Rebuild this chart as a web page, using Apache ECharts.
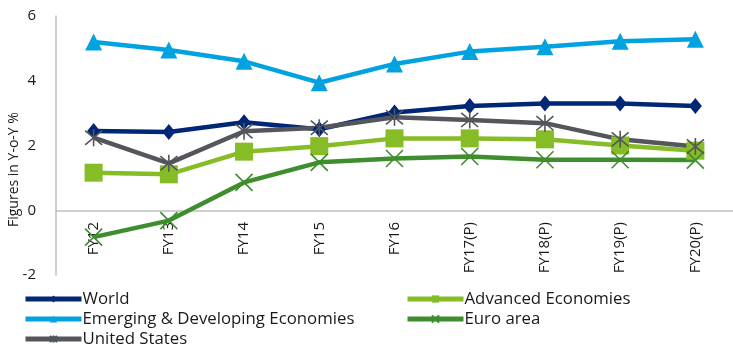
<!DOCTYPE html>
<html>
<head>
<meta charset="utf-8">
<script src="https://cdn.jsdelivr.net/npm/echarts@6/dist/echarts.min.js"></script>
<style>
html,body{margin:0;padding:0;background:#fff;}
#chart{width:733px;height:349px;}
</style>
</head>
<body>
<div id="chart"></div>
<script>
var categories = ['FY12','FY13','FY14','FY15','FY16','FY17(P)','FY18(P)','FY19(P)','FY20(P)'];
var world = [2.45, 2.42, 2.72, 2.5, 3.02, 3.22, 3.3, 3.3, 3.22];
var advanced = [1.16, 1.11, 1.81, 1.98, 2.22, 2.22, 2.19, 2.0, 1.84];
var emerging = [5.2, 4.95, 4.6, 3.94, 4.52, 4.9, 5.05, 5.22, 5.28];
var euro = [-0.83, -0.32, 0.86, 1.48, 1.6, 1.66, 1.56, 1.56, 1.55];
var us = [2.24, 1.45, 2.44, 2.55, 2.87, 2.79, 2.69, 2.19, 1.97];
var yTicks = [-2, 0, 2, 4, 6];

var FONT = '"Open Sans", "Noto Sans", sans-serif';
var xPath = 'path://M0 0L10 10M10 0L0 10';
var starPath = 'path://M0 0L10 10M10 0L0 10M5 -1L5 11';

function mk(name, data, color, symbol, size, stroke) {
  return {
    name: name, type: 'line', data: data,
    symbol: symbol, symbolSize: size, showSymbol: true,
    lineStyle: {color: color, width: 4.5},
    itemStyle: stroke ? {color: color, borderColor: color, borderWidth: 1.6} : {color: color, borderWidth: 0},
    emphasis: {disabled: true},
    animation: false
  };
}

var legendText = {fontSize: 16.8, lineHeight: 20, color: '#1a1a1a', fontFamily: FONT, padding: [0,0,0,-4]};

var chart = echarts.init(document.getElementById('chart'), null, {renderer: 'canvas'});
chart.setOption({
  animation: false,
  grid: {left: 56, top: 16, bottom: 74, right: -11, containLabel: false},
  xAxis: {
    type: 'category', data: categories, boundaryGap: true,
    offset: -64,
    axisLine: {show: true, onZero: false, lineStyle: {color: '#BFBFBF', width: 1.5}},
    axisTick: {show: false},
    axisLabel: {rotate: 90, margin: 11, fontSize: 15, color: '#1a1a1a', fontFamily: FONT, interval: 0}
  },
  yAxis: {
    type: 'value', min: yTicks[0], max: yTicks[yTicks.length-1], interval: 2,
    axisLine: {show: true, lineStyle: {color: '#BFBFBF', width: 1.5}},
    axisTick: {show: false},
    splitLine: {show: false},
    axisLabel: {fontSize: 15, color: '#1a1a1a', fontFamily: FONT, margin: 20}
  },
  graphic: [{
    type: 'text', x: 7, y: 227, rotation: Math.PI/2,
    style: {text: 'Figures in Y-o-Y %', fontSize: 14, fill: '#1a1a1a', fontFamily: FONT, textAlign: 'left', textVerticalAlign: 'top'}
  }],
  legend: [{
    data: ['World', 'Emerging & Developing Economies', 'United States'],
    orient: 'vertical', left: 23, top: 289, itemWidth: 56, itemHeight: 9, itemGap: 0,
    lineStyle: {width: 5},
    textStyle: legendText, padding: 0
  }, {
    data: ['Advanced Economies', 'Euro area'],
    orient: 'vertical', left: 405, top: 289, itemWidth: 56, itemHeight: 9, itemGap: 0,
    lineStyle: {width: 5},
    textStyle: legendText, padding: 0
  }],
  series: [
    mk('World', world, '#002776', 'diamond', [13, 16], false),
    mk('Advanced Economies', advanced, '#86BC25', 'rect', 18, false),
    mk('Emerging & Developing Economies', emerging, '#00A3E0', 'triangle', 17, false),
    mk('Euro area', euro, '#3E8E2E', xPath, 17, true),
    mk('United States', us, '#53565A', starPath, 17, true)
  ]
});
</script>
</body>
</html>
